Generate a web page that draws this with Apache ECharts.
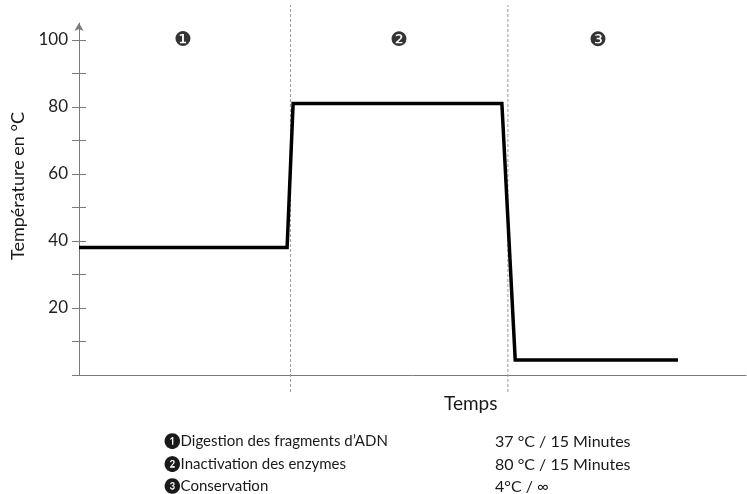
<!DOCTYPE html>
<html>
<head>
<meta charset="utf-8">
<script src="https://cdn.jsdelivr.net/npm/echarts@6/dist/echarts.min.js"></script>
<style>html,body{margin:0;padding:0;background:#fff}#c{width:747px;height:494px}</style>
</head>
<body>
<div id="c"></div>
<script>
// Temperature profile (time in arbitrary units, 0..100 along the axis)
var timeValues = [0, 31.2, 32.1, 63.4, 65.4, 89.8];
var tempValues = [38, 38, 81, 81, 4.5, 4.5];
var stageBoundaries = [31.7, 64.3];
var stageMarkerX = [15.6, 48.0, 77.8];
var stageMarkerY = 99.6;
var stageSymbols = ['\u2776', '\u2777', '\u2778'];
var stageNames = ['Digestion des fragments d\u2019ADN', 'Inactivation des enzymes', 'Conservation'];
var stageConditions = ['37 \u00b0C / 15 Minutes', '80 \u00b0C / 15 Minutes', '4\u00b0C / \u221e'];
var yTickValues = [0, 10, 20, 30, 40, 50, 60, 70, 80, 90, 100];
var yLabelValues = [20, 40, 60, 80, 100];
var yAxisName = 'Temp\u00e9rature en \u00b0C';
var xAxisName = 'Temps';

var FONT = "Lato, 'DejaVu Sans', sans-serif";
var AXIS_COLOR = '#7a7a7a';

var chart = echarts.init(document.getElementById('c'), null, {renderer: 'canvas'});

var titles = [{
  text: xAxisName, left: 444, top: 394, padding: 0,
  textStyle: {fontFamily: FONT, fontSize: 19, fontWeight: 'normal', color: '#1a1a1a'}
}];
stageNames.forEach(function (n, i) {
  titles.push({
    text: stageSymbols[i] + n, left: 164, top: 434 + i * 22.5, padding: 0,
    textStyle: {fontFamily: FONT, fontSize: 15, fontWeight: 'normal', color: '#1a1a1a'}
  });
  titles.push({
    text: stageConditions[i], left: 495, top: 434 + i * 22.5, padding: 0,
    textStyle: {fontFamily: FONT, fontSize: 16, fontWeight: 'normal', color: '#1a1a1a'}
  });
});

var series = [{
  type: 'line',
  xAxisIndex: 0, yAxisIndex: 0,
  data: timeValues.map(function (t, i) { return [t, tempValues[i]]; }),
  symbol: 'none',
  lineStyle: {color: '#000', width: 3.5, join: 'miter'},
  silent: true, animation: false, z: 5
}, {
  type: 'scatter',
  xAxisIndex: 0, yAxisIndex: 0,
  data: stageMarkerX.map(function (x, i) { return {value: [x, stageMarkerY], label: {formatter: stageSymbols[i]}}; }),
  symbolSize: 1,
  itemStyle: {color: 'rgba(0,0,0,0)'},
  label: {show: true, position: 'inside', fontFamily: "'DejaVu Sans'", fontSize: 20, color: '#000'},
  silent: true, animation: false
}];
stageBoundaries.forEach(function (b) {
  series.push({
    type: 'line',
    xAxisIndex: 1, yAxisIndex: 2,
    data: [[b, 0], [b, 1]],
    symbol: 'none',
    lineStyle: {color: '#9a9a9a', width: 1, type: [3, 2]},
    silent: true, animation: false, z: 1
  });
});

chart.setOption({
  animation: false,
  backgroundColor: '#fff',
  title: titles,
  grid: [
    {left: 79, right: 1, top: 23, bottom: 119},
    {left: 79, right: 1, top: 5, bottom: 102}
  ],
  xAxis: [{
    type: 'value', gridIndex: 0, min: 0, max: 100,
    axisLine: {show: true, lineStyle: {color: AXIS_COLOR, width: 1}},
    axisTick: {show: false}, axisLabel: {show: false}, splitLine: {show: false}
  }, {
    type: 'value', gridIndex: 1, min: 0, max: 100, show: false
  }],
  yAxis: [{
    type: 'value', gridIndex: 0, position: 'left', min: 0, max: 105,
    name: yAxisName, nameLocation: 'middle', nameGap: 48,
    nameTextStyle: {fontFamily: FONT, fontSize: 18, color: '#1a1a1a', padding: [0, 0, 0, 26]},
    axisLine: {show: true, symbol: ['none', 'arrow'], symbolSize: [7, 8], lineStyle: {color: AXIS_COLOR, width: 1}},
    axisTick: {show: true, length: 7, customValues: yTickValues, lineStyle: {color: AXIS_COLOR}},
    axisLabel: {show: true, margin: 11, customValues: yLabelValues, fontFamily: FONT, fontSize: 17, color: '#222'},
    splitLine: {show: false}
  }, {
    type: 'value', gridIndex: 0, position: 'left', min: 0, max: 105,
    axisLine: {show: false},
    axisTick: {show: true, inside: true, length: 7, customValues: yTickValues, lineStyle: {color: AXIS_COLOR}},
    axisLabel: {show: false}, splitLine: {show: false}
  }, {
    type: 'value', gridIndex: 1, min: 0, max: 1, show: false
  }],
  series: series
});
</script>
</body>
</html>
